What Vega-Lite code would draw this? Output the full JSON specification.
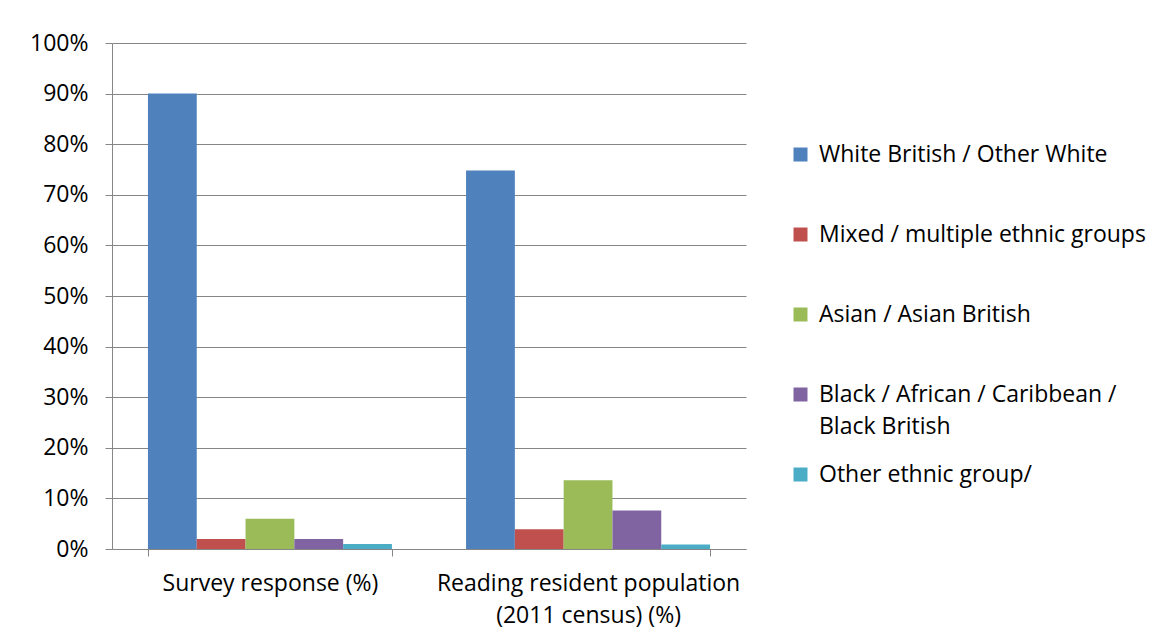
{
  "$schema": "https://vega.github.io/schema/vega-lite/v6.json",
  "width": 634,
  "height": 506,
  "autosize": {"type": "none"},
  "padding": {"left": 112, "top": 43, "right": 411, "bottom": 91},
  "background": "white",
  "config": {
    "font": "Open Sans",
    "view": {"stroke": null},
    "style": {"guide-label": {"lineHeight": 32}}
  },
  "data": {
    "values": [
      {"category": "Survey response (%)", "group": "White British / Other White", "value": 90.0},
      {"category": "Survey response (%)", "group": "Mixed / multiple ethnic groups", "value": 2.0},
      {"category": "Survey response (%)", "group": "Asian / Asian British", "value": 6.0},
      {"category": "Survey response (%)", "group": "Black / African / Caribbean / Black British", "value": 2.0},
      {"category": "Survey response (%)", "group": "Other ethnic group/", "value": 1.0},
      {"category": "Reading resident population (2011 census) (%)", "group": "White British / Other White", "value": 74.8},
      {"category": "Reading resident population (2011 census) (%)", "group": "Mixed / multiple ethnic groups", "value": 3.9},
      {"category": "Reading resident population (2011 census) (%)", "group": "Asian / Asian British", "value": 13.6},
      {"category": "Reading resident population (2011 census) (%)", "group": "Black / African / Caribbean / Black British", "value": 7.6},
      {"category": "Reading resident population (2011 census) (%)", "group": "Other ethnic group/", "value": 0.9}
    ]
  },
  "mark": {"type": "bar"},
  "encoding": {
    "x": {
      "field": "category",
      "type": "nominal",
      "sort": ["Survey response (%)", "Reading resident population (2011 census) (%)"],
      "title": null,
      "scale": {"paddingInner": 0.233, "paddingOuter": 0.113},
      "axis": {
        "labelAngle": 0,
        "tickBand": "extent",
        "labelExpr": "datum.label == 'Reading resident population (2011 census) (%)' ? ['Reading resident population', '(2011 census) (%)'] : datum.label",
        "labelFontSize": 23,
        "labelColor": "black",
        "labelLineHeight": 32,
        "labelPadding": 16,
        "labelLimit": 500,
        "labelBaseline": "top",
        "tickSize": 7,
        "tickColor": "#868686",
        "domainColor": "#868686",
        "grid": false
      }
    },
    "xOffset": {
      "field": "group",
      "type": "nominal",
      "sort": ["White British / Other White", "Mixed / multiple ethnic groups", "Asian / Asian British", "Black / African / Caribbean / Black British", "Other ethnic group/"],
      "scale": {"paddingInner": 0, "paddingOuter": 0}
    },
    "y": {
      "field": "value",
      "type": "quantitative",
      "scale": {"domain": [0, 100], "nice": false},
      "axis": {
        "title": null,
        "values": [0, 10, 20, 30, 40, 50, 60, 70, 80, 90, 100],
        "labelExpr": "datum.value + '%'",
        "labelFontSize": 23,
        "labelColor": "black",
        "labelPadding": 17,
        "tickSize": 7,
        "tickColor": "#868686",
        "domainColor": "#868686",
        "gridColor": "#868686",
        "gridOpacity": 1
      }
    },
    "color": {
      "field": "group",
      "type": "nominal",
      "sort": ["White British / Other White", "Mixed / multiple ethnic groups", "Asian / Asian British", "Black / African / Caribbean / Black British", "Other ethnic group/"],
      "scale": {
        "domain": ["White British / Other White", "Mixed / multiple ethnic groups", "Asian / Asian British", "Black / African / Caribbean / Black British", "Other ethnic group/"],
        "range": ["#4F81BD", "#C0504D", "#9BBB59", "#8064A2", "#4BACC6"]
      },
      "legend": {
        "title": null,
        "orient": "none",
        "legendX": 677,
        "legendY": 100,
        "symbolType": "square",
        "symbolSize": 196,
        "symbolStrokeWidth": 0,
        "labelFontSize": 23,
        "labelColor": "black",
        "labelOffset": 7,
        "labelLimit": 400,
        "labelBaseline": "middle",
        "rowPadding": 24,
        "labelExpr": "datum.label == 'Black / African / Caribbean / Black British' ? ['Black / African / Caribbean /', 'Black British'] : [datum.label, ' ']"
      }
    }
  }
}
